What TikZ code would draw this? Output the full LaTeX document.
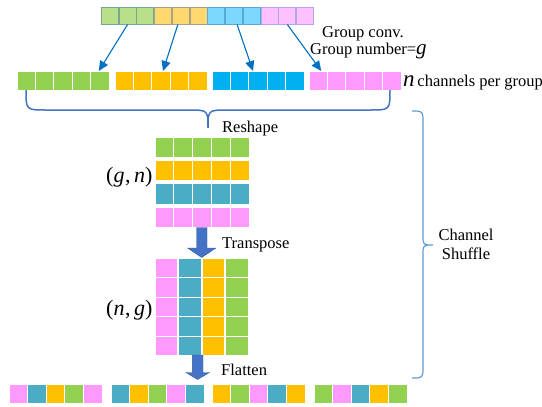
\documentclass[tikz,border=0pt]{standalone}
\usepackage{fontspec}
\setmainfont{Liberation Serif}
\newfontfamily\tnr{Liberation Serif}
\usetikzlibrary{arrows.meta,calc}
\definecolor{tgreen}{HTML}{BADF8B}
\definecolor{tgreenb}{HTML}{78A890}
\definecolor{tyellow}{HTML}{FFD970}
\definecolor{tyellowb}{HTML}{A8A088}
\definecolor{tblue}{HTML}{7DD8FF}
\definecolor{tblueb}{HTML}{5AA8D8}
\definecolor{tpink}{HTML}{FFC0FF}
\definecolor{tpinkb}{HTML}{B0A8E8}
\definecolor{mgreen}{HTML}{92D050}
\definecolor{myellow}{HTML}{FFC000}
\definecolor{mblue}{HTML}{00B0F0}
\definecolor{mpink}{HTML}{FF99FF}
\definecolor{mteal}{HTML}{4BACC6}
\definecolor{arrblue}{HTML}{0070C0}
\definecolor{braceblue}{HTML}{4472C4}
\definecolor{lbrace}{HTML}{5B9BD5}
\begin{document}
\begin{tikzpicture}[x=1pt,y=-1pt,
  topsq/.style={anchor=north west,inner sep=0pt,outer sep=0pt,minimum width=16.9pt,minimum height=17pt,line width=0.9pt},
  cell/.style={anchor=north west,inner sep=0pt,outer sep=0pt,draw=white,line width=0.8pt},
  conn/.style={draw=arrblue,line width=1.1pt,-{Triangle[length=10pt,width=9pt]}},
  lbl/.style={anchor=base west,inner sep=0pt,font=\tnr\fontsize{16.5}{18}\selectfont},
  blockarrow/.style={fill=braceblue,draw=braceblue!80!black,line width=0.4pt}
]
\useasboundingbox (0,0) rectangle (542,407);
% top row
\foreach \i/\f/\b in {1/tgreen/tgreenb,2/tgreen/tgreenb,3/tgreen/tgreenb,4/tyellow/tyellowb,5/tyellow/tyellowb,6/tyellow/tyellowb,7/tblue/tblueb,8/tblue/tblueb,9/tblue/tblueb,10/tpink/tpinkb,11/tpink/tpinkb,12/tpink/tpinkb}
  \node[topsq,fill=\f,draw=\b] (t\i) at ({101.4+(\i-1)*17.75},7.5) {};
% second row
\foreach \g/\x/\c in {1/17/mgreen,2/115/myellow,3/212/mblue,4/309/mpink}
  \foreach \k in {1,...,5}
    \node[cell,fill=\c,minimum width=18.4pt,minimum height=19pt] (r\g-\k) at ({\x+(\k-1)*18.4},71) {};
% arrows from top row
\draw[conn] (t2.south) -- ([xshift=-1pt]r1-5.north);
\draw[conn] ([xshift=-3pt]t5.south) -- ([xshift=2pt]r2-3.north);
\draw[conn] ([xshift=3pt]t8.south) -- ([xshift=-5pt]r3-3.north);
\draw[conn] (t11.south) -- ([xshift=3pt]r4-1.north);
% labels top right
\node[lbl] (gc) at (322,37.5) {Group conv.};
\node[lbl] (gn) at (310,54) {Group number=\fontsize{21}{21}\selectfont\textit{g}};
\node[lbl] (nch) at (403,86) {\fontsize{23}{23}\selectfont\textit{n}\fontsize{16.5}{18}\selectfont\,channels per group};
% bottom brace of second row
\coordinate (bl) at (26,90);
\coordinate (br) at (390,90);
\coordinate (btip) at (208,128);
\draw[braceblue,line width=1.5pt]
  (bl) .. controls (26,110) .. (46,110) -- (188,110)
  .. controls (208,110) .. (btip)
  .. controls (208,110) .. (228,110) -- (370,110)
  .. controls (390,110) .. (br);
\node[lbl] (resh) at (222,132) {Reshape};
% matrix (g,n)
\foreach \r/\y/\c in {1/137/mgreen,2/160.3/myellow,3/183.6/mteal,4/206.9/mpink}
  \foreach \k in {1,...,5}
    \node[cell,fill=\c,minimum width=18.8pt,minimum height=20.5pt] (a\r-\k) at ({155+(\k-1)*18.8},\y) {};
\node[lbl,font=\tnr\fontsize{22}{22}\selectfont] (gnlab) at (106,182) {(\textit{g}{\kern0.5pt},\,\textit{n})};
% transpose arrow
\draw[blockarrow] (196.5,227.5) -- (207,227.5) -- (207,248) -- (216,248) -- (201.7,257.5) -- (187.5,248) -- (196.5,248) -- cycle;
\node[lbl] (tr) at (222,248) {Transpose};
% matrix (n,g)
\foreach \k/\x/\c in {1/155/mpink,2/178.5/mteal,3/202/myellow,4/225.7/mgreen}
  \foreach \r in {1,...,5}
    \node[cell,fill=\c,minimum width=22.5pt,minimum height=19.5pt] (b\r-\k) at (\x,{258+(\r-1)*19.5}) {};
\node[lbl,font=\tnr\fontsize{22}{22}\selectfont] (nglab) at (106,315) {(\textit{n}{\kern0.5pt},\,\textit{g})};
% flatten arrow
\draw[blockarrow] (192.3,355) -- (203,355) -- (203,372.5) -- (209.5,372.5) -- (197.6,379.5) -- (185.8,372.5) -- (192.3,372.5) -- cycle;
\node[lbl] (fl) at (221,375) {Flatten};
% bottom row
\foreach \g/\x/\la/\lb/\lc/\ld/\le in {1/9/mpink/mteal/myellow/mgreen/mpink,2/111/mteal/myellow/mgreen/mpink/mteal,3/212/myellow/mgreen/mpink/mteal/myellow,4/314/mgreen/mpink/mteal/myellow/mgreen}
  {\foreach \k/\c in {1/\la,2/\lb,3/\lc,4/\ld,5/\le}
    \node[cell,fill=\c,minimum width=18.6pt,minimum height=19pt] (f\g-\k) at ({\x+(\k-1)*18.6},384) {};}
% right brace
\draw[lbrace,line width=1.2pt]
  (412,111) .. controls (423,111) .. (423,122) -- (423,235)
  .. controls (423,245) .. (433,245)
  .. controls (423,245) .. (423,255) -- (423,367)
  .. controls (423,378) .. (412,378);
\node[align=center,inner sep=0pt,font=\tnr\fontsize{16.5}{19}\selectfont] (cs) at (466,244) {Channel\\Shuffle};
\end{tikzpicture}
\end{document}
